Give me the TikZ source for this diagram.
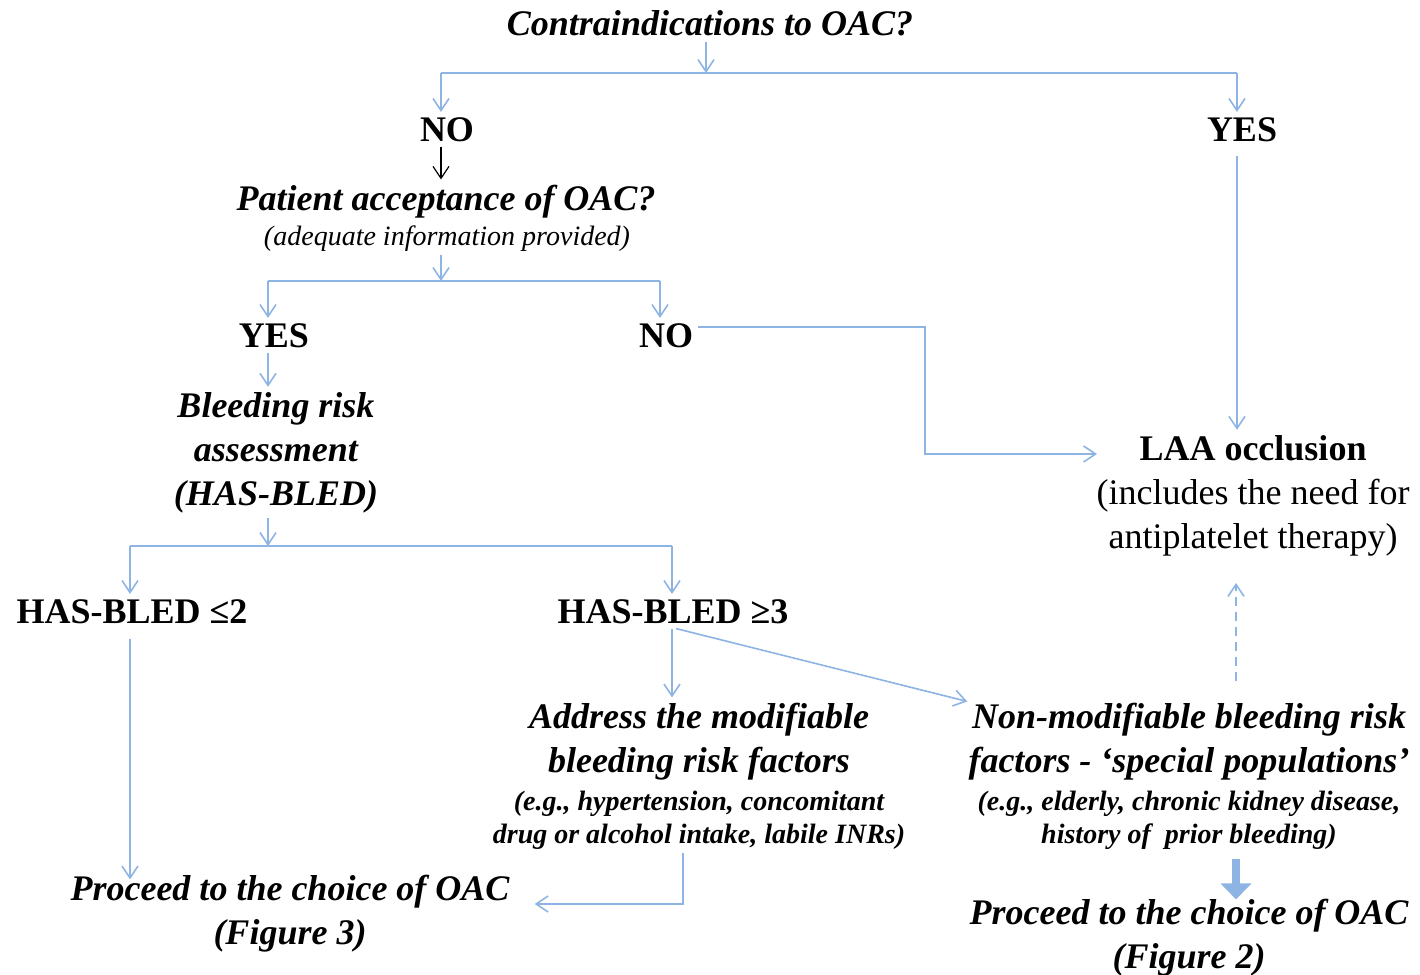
\documentclass[tikz,border=0pt]{standalone}
\usepackage{fontspec}
\setmainfont{Liberation Serif}
\usetikzlibrary{arrows.meta}
\begin{document}
\begin{tikzpicture}[x=1pt, y=-1pt,
  big/.style={anchor=base, inner sep=5pt, align=center, font=\fontsize{36}{44}\selectfont\bfseries\itshape},
  choice/.style={anchor=base, inner sep=5pt, font=\fontsize{36}{44}\selectfont\bfseries},
  note/.style={anchor=base, inner sep=4pt, align=center, font=\fontsize{28}{33}\selectfont\bfseries\itshape},
  flow/.style={draw=lineblue, line width=1.6pt, -{Straight Barb[length=12pt,width=16pt]}},
  branch/.style={draw=lineblue, line width=1.6pt}]
\definecolor{lineblue}{HTML}{8EB4E3}
\useasboundingbox (0,0) rectangle (1420,974);
% questions and answers (base = last line)
\node[big] (contra) at (710,36) {Contraindications to OAC?};
\node[choice] (no1) at (447,141) {NO};
\node[choice] (yes1) at (1242,141) {YES};
\node[big] (accept) at (446,210) {Patient acceptance of OAC?};
\node[anchor=base, inner sep=4pt, font=\fontsize{28}{33}\selectfont\itshape] (info) at (447,245) {(adequate information provided)};
\node[choice] (yes2) at (274,347) {YES};
\node[choice] (no2) at (666,347) {NO};
\node[big] (bleed) at (276,505) {Bleeding risk\\assessment\\(HAS-BLED)};
\node[choice] (low) at (132,623) {HAS-BLED ≤2};
\node[choice] (high) at (673,623) {HAS-BLED ≥3};
\node[big] (modif) at (699,772) {Address the modifiable\\bleeding risk factors};
\node[note] (modifex) at (699,843) {(e.g., hypertension, concomitant\\drug or alcohol intake, labile INRs)};
\node[big] (nonmod) at (1189,772) {Non-modifiable bleeding risk\\factors - ‘special populations’};
\node[note] (nonmodex) at (1189,843) {(e.g., elderly, chronic kidney disease,\\history of \ prior bleeding)};
\node[big] (fig3) at (290,944) {Proceed to the choice of OAC\\(Figure 3)};
\node[big] (fig2) at (1189,968) {Proceed to the choice of OAC\\(Figure 2)};
\node[anchor=base, inner sep=5pt, align=center, font=\fontsize{36}{44}\selectfont] (laa) at (1253,548) {\textbf{LAA occlusion}\\(includes the need for\\antiplatelet therapy)};
% branch points
\coordinate (s1) at (706,73);
\coordinate (s1l) at (441,73);
\coordinate (s1r) at (1237,73);
\coordinate (s2) at (441,281);
\coordinate (s2l) at (268,281);
\coordinate (s2r) at (660,281);
\coordinate (s3) at (268,546);
\coordinate (s3l) at (130,546);
\coordinate (s3r) at (672,546);
\coordinate (bend) at (925,327);
\coordinate (laain) at (1097,454);
\coordinate (ret) at (683,904);
% connectors
\draw[flow] (s1 |- contra.south) -- (s1);
\draw[branch] (s1l) -- (s1r);
\draw[flow] (s1l) -- (s1l |- no1.north);
\draw[flow] (s1r) -- (s1r |- yes1.north);
\draw[-{Straight Barb[length=12pt,width=16pt]}, line width=1.2pt] (s1l |- no1.south) -- (s1l |- accept.north);
\draw[flow] (s2 |- info.south) -- (s2);
\draw[branch] (s2l) -- (s2r);
\draw[flow] (s2l) -- (s2l |- yes2.north);
\draw[flow] (s2r) -- (s2r |- no2.north);
\draw[flow] (s2l |- yes2.south) -- (s2l |- bleed.north);
\draw[flow] (s3 |- bleed.south) -- (s3);
\draw[branch] (s3l) -- (s3r);
\draw[flow] (s3l) -- (s3l |- low.north);
\draw[flow] (s3r) -- (s3r |- high.north);
\draw[flow, shorten <=10pt, shorten >=-10pt] (s3l |- low.south) -- (s3l |- fig3.north);
\draw[flow] (s3r |- high.south) -- (s3r |- modif.north);
\draw[flow] ([xshift=4pt]s3r |- high.south) -- ([xshift=4pt, yshift=-4pt]nonmod.north west);
\draw[flow, shorten >=20pt] (ret |- modifex.south) -- (ret) -- (ret -| fig3.east);
\draw[flow, shorten <=9pt] (s1r |- yes1.south) -- (s1r |- laa.north);
\draw[flow] (no2.east |- bend) -- (bend) |- (laain);
\draw[flow, dash pattern=on 9pt off 6pt, shorten <=16pt, shorten >=22pt] (1236,0 |- nonmod.north) -- (1236,0 |- laa.south);
\draw[draw=lineblue, line width=8pt, shorten <=6pt, shorten >=-6pt, -{Triangle[length=16pt,width=30pt]}] (1236,0 |- nonmodex.south) -- (1236,0 |- fig2.north);
\end{tikzpicture}
\end{document}
